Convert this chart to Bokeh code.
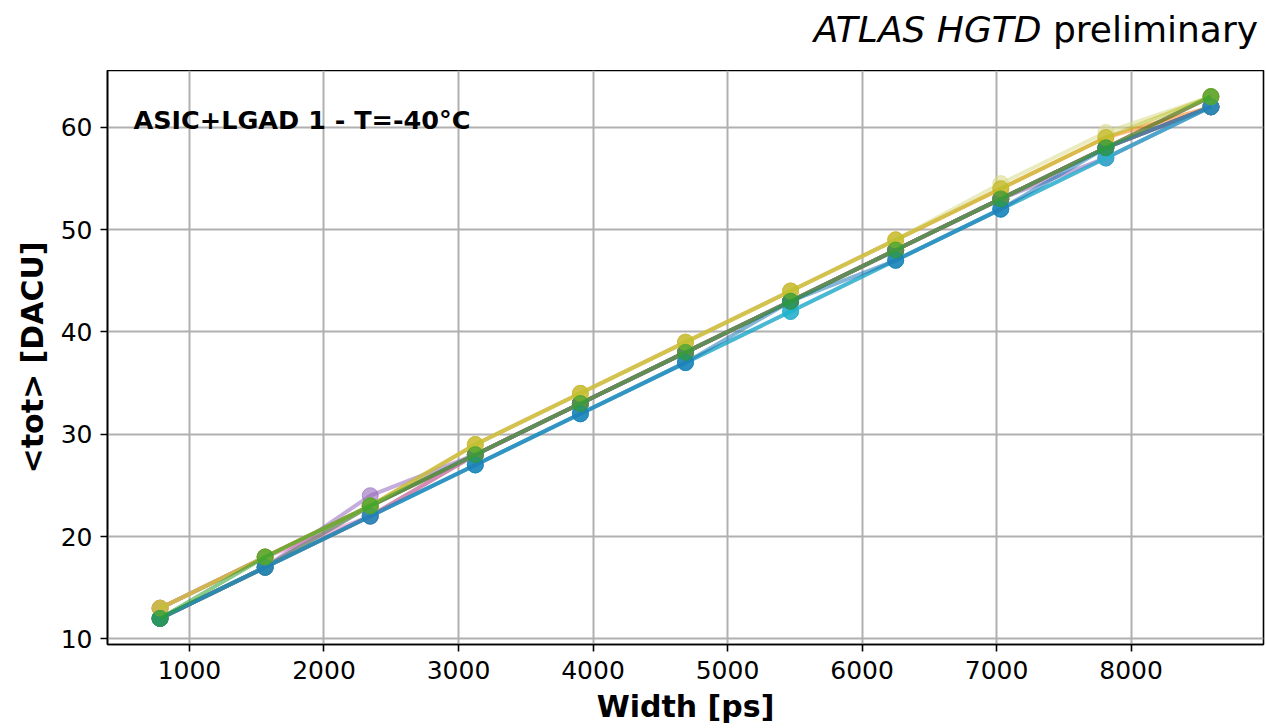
from bokeh.plotting import figure
from bokeh.models import Label, Range1d, FixedTicker, Div
from bokeh.layouts import column
from bokeh.embed import file_html
from bokeh.resources import INLINE

# ---- data ----
width_ps = [781.25, 1562.5, 2343.75, 3125, 3906.25, 4687.5, 5468.75, 6250, 7031.25, 7812.5, 8593.75]

ch00 = [12, 17, 22, 27, 32, 37, 42, 47, 52, 57, 62]
ch01 = [13, 18, 23, 29, 34, 39, 44, 49, 54, 59, 62]
ch02 = [12, 17, 23, 28, 33, 38, 43, 48, 53, 58, 62]
ch03 = [13, 18, 23, 28, 33, 38, 43, 48, 53, 58, 63]
ch04 = [12, 17, 24, 28, 33, 38, 43, 48, 53, 57, 62]
ch05 = [12, 17, 22, 28, 33, 38, 43, 48, 53, 58, 62]
ch06 = [13, 18, 22, 28, 33, 38, 43, 48, 53, 58, 62]
ch07 = [12, 17, 23, 28, 33, 38, 43, 48, 53, 58, 62]
ch08 = [13, 18, 23, 29, 34, 39, 44, 49, 54.5, 59.5, 63]
ch09 = [12, 17, 22, 27, 32, 37, 42, 47, 52, 57, 62]
ch10 = [12, 17, 22, 27, 32, 37, 43, 47, 52, 58, 62]
ch11 = [13, 18, 23, 29, 34, 39, 44, 49, 54, 59, 63]
ch12 = [12, 18, 23, 28, 33, 38, 43, 48, 53, 58, 63]

series = [ch00, ch01, ch02, ch03, ch04, ch05, ch06, ch07, ch08, ch09, ch10, ch11, ch12]
colors = ["#1f77b4", "#ff7f0e", "#2ca02c", "#d62728", "#9467bd", "#8c564b", "#e377c2",
          "#7f7f7f", "#dbdb8d", "#17becf", "#1f77b4", "#bcbd22", "#2ca02c"]

x_ticks = [1000, 2000, 3000, 4000, 5000, 6000, 7000, 8000]
y_ticks = [10, 20, 30, 40, 50, 60]

FONT = "DejaVu Sans"

header = Div(
    text=('<div style="display:block; width:1258px; font-family:\'DejaVu Sans\'; font-size:36px; '
          'line-height:36px; text-align:right; padding-top:12px; color:black; white-space:nowrap;">'
          '<span style="font-style:italic">ATLAS HGTD</span> preliminary</div>'),
    width=1266, height=70, margin=0,
)

p = figure(width=1266, height=658, output_backend="svg", toolbar_location=None,
           x_range=Range1d(390.6, 8984.4), y_range=Range1d(9.45, 65.55),
           min_border_left=107, min_border_right=3, min_border_top=0, min_border_bottom=84,
           margin=0)

p.background_fill_color = "white"
p.border_fill_color = "white"
p.outline_line_color = "black"
p.outline_line_width = 1.6

for vals, c in zip(series, colors):
    p.line(width_ps, vals, line_color=c, line_width=4, line_alpha=0.55)
    p.scatter(width_ps, vals, size=16, fill_color=c, line_color=c, fill_alpha=0.6, line_alpha=0.6)

p.xaxis.ticker = FixedTicker(ticks=x_ticks)
p.yaxis.ticker = FixedTicker(ticks=y_ticks)
p.grid.grid_line_color = "#b0b0b0"
p.grid.grid_line_width = 2
p.xgrid.ticker = FixedTicker(ticks=x_ticks)
p.ygrid.ticker = FixedTicker(ticks=y_ticks)

for ax in (p.xaxis, p.yaxis):
    ax.axis_line_color = "black"
    ax.axis_line_width = 1.6
    ax.major_tick_line_color = "black"
    ax.major_tick_line_width = 1.6
    ax.major_tick_out = 7
    ax.major_tick_in = 0
    ax.minor_tick_line_color = None
    ax.major_label_text_font = FONT
    ax.major_label_text_font_size = "25px"
    ax.major_label_text_color = "black"
    ax.axis_label_text_font = FONT
    ax.axis_label_text_font_size = "30px"
    ax.axis_label_text_font_style = "bold"
    ax.axis_label_text_color = "black"

p.xaxis.axis_label = "Width [ps]"
p.yaxis.axis_label = "<tot> [DACU]"
p.xaxis.major_label_standoff = 9
p.xaxis.axis_label_standoff = 7
p.yaxis.major_label_standoff = 8
p.yaxis.axis_label_standoff = 8

p.add_layout(Label(x=26, y=525, x_units="screen", y_units="screen",
                   text="ASIC+LGAD 1 - T=-40°C", text_font=FONT, text_font_size="25.5px",
                   text_font_style="bold", text_color="black", text_baseline="alphabetic"))

layout = column(header, p, spacing=0, margin=0)

open("out.html", "w").write(file_html(layout, INLINE))
